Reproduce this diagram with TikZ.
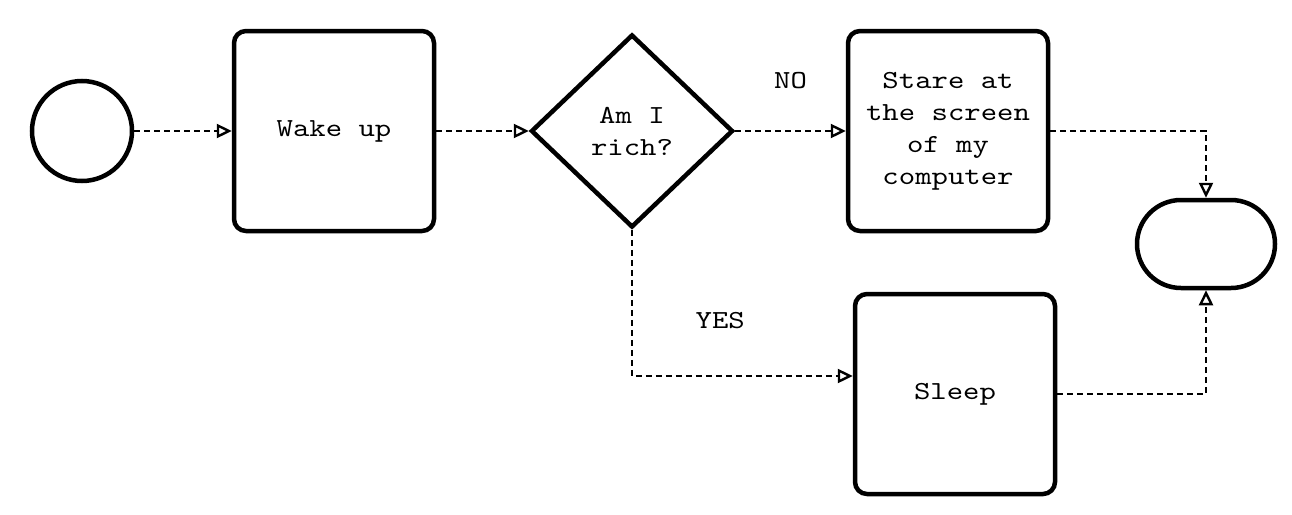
\documentclass[tikz,border=0pt]{standalone}
\usepackage{fontspec}
\setmonofont{lmmono10-regular.otf}[FakeStretch=1.2]
\usetikzlibrary{arrows.meta,positioning,shapes.geometric}

\begin{document}
\begin{tikzpicture}[>={Triangle[open,length=15pt,width=14pt]},node distance=250pt,on grid,
  every node/.style={font=\ttfamily\fontsize{26}{32}\selectfont},
  box/.style={draw,line width=4.5pt,rounded corners=12pt,minimum width=200pt,minimum height=200pt,align=center,inner sep=0pt},
  flow/.style={->,line width=2.4pt,dash pattern=on 6pt off 4pt}]
  \useasboundingbox (0,0) rectangle (1292pt,-514pt);

  \node[draw,circle,line width=4.5pt,minimum size=100pt] (start) at (82pt,-131pt) {};
  \node[box] (wake) [right=252pt of start] {Wake up};
  \node[draw,diamond,line width=4.5pt,minimum width=202pt,minimum height=193pt,align=center,inner sep=0pt] (rich) [right=298pt of wake] {Am I\\rich?};
  \node[box] (stare) [right=316pt of rich] {Stare at\\the screen\\of my\\computer};
  \node[box] (sleep) [below right=263pt and 7pt of stare] {Sleep};
  \node[draw,line width=4.5pt,rounded corners=44pt,minimum width=138pt,minimum height=88pt] (end) [below right=113pt and 258pt of stare] {};

  \draw[flow] (start) -- (wake);
  \draw[flow] (wake) -- (rich);
  \draw[flow] (rich) -- node[midway,yshift=50pt] {NO} (stare);
  \draw[flow] (rich) |- node[pos=0.7,yshift=55pt] {YES} ([yshift=18pt]sleep.west);
  \draw[flow] (stare) -| (end);
  \draw[flow] (sleep) -| (end);
\end{tikzpicture}
\end{document}
